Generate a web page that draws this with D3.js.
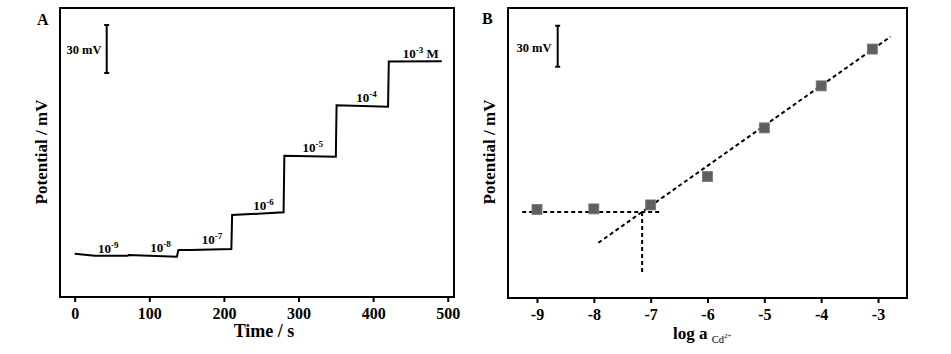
<!DOCTYPE html>
<html>
<head>
<meta charset="utf-8">
<script src="https://cdn.jsdelivr.net/npm/d3@7"></script>
<style>
  body { margin: 0; background: #fff; }
  text { font-family: "Liberation Serif", "Times New Roman", serif; font-weight: bold; fill: #000; }
</style>
</head>
<body>
<svg id="canvas" width="951" height="354"></svg>
<script>
// ---- data, panel A: potential vs time (mV relative to first plateau)
var timeA = [0, 27, 71, 72, 137, 139, 155, 210, 211, 280, 281, 350, 351, 420, 421, 492];
var potA  = [1.4, 0.2, 0.2, 0.6, -0.4, 3.7, 3.8, 4.4, 25.6, 27.3, 62.7, 62.0, 94.2, 93.3, 121.5, 121.8];
var stepExp  = ["-9", "-8", "-7", "-6", "-5", "-4", "-3"];
var stepUnit = ["", "", "", "", "", "", " M"];
var stepT = [45, 115, 184, 253, 319, 391, 464];
var stepV = [1.9, 2.7, 7.5, 28.8, 65.2, 96.4, 123.6];
var ticksA = [0, 100, 200, 300, 400, 500];
var barA = [114.4, 144.4];   // 30 mV scale bar

// ---- data, panel B: calibration
var logA = [-9, -8, -7, -6, -5, -4, -3.1];
var potB = [1.8, 2.2, 5.1, 25.8, 61.4, 92.1, 119.0];
var ticksB = [-9, -8, -7, -6, -5, -4, -3];
var slopeB = 29.3;        // mV / decade
var lodX = -7.15;         // intersection (detection limit)
var fitRange = [-7.92, -2.78];
var flatRange = [-9.26, -6.85];
var lodDrop = -44.3;
var barB = [106.1, 136.1];   // 30 mV scale bar

var svg = d3.select('#canvas');

function scaleBar(g, x, y0, y1) {
  g.append('path').attr('d', 'M' + x + ',' + y0 + 'V' + y1 +
    'M' + (x - 2.5) + ',' + y0 + 'H' + (x + 2.5) +
    'M' + (x - 2.5) + ',' + y1 + 'H' + (x + 2.5))
    .attr('stroke', '#000').attr('stroke-width', 2).attr('fill', 'none');
}

// ************************************************************************************** //
// Panel A

var A = { left: 60, top: 8, right: 454, bottom: 297 };
var xA = d3.scaleLinear().domain([-19.7, 508.4]).range([A.left, A.right]);
var yA = d3.scaleLinear().domain([-25.6, 155]).range([A.bottom, A.top]);

var gA = svg.append('g');
gA.append('rect')
  .attr('x', A.left).attr('y', A.top)
  .attr('width', A.right - A.left).attr('height', A.bottom - A.top)
  .attr('fill', 'none').attr('stroke', '#000').attr('stroke-width', 2);

var axA = gA.append('g').attr('transform', 'translate(0,' + A.bottom + ')')
  .call(d3.axisBottom(xA).tickValues(ticksA).tickSize(5).tickPadding(6));
axA.select('.domain').remove();
axA.selectAll('line').attr('stroke-width', 2);
axA.selectAll('text').style('font-size', '16px');

var lineA = d3.line().x(function(d, i) { return xA(timeA[i]); }).y(function(d, i) { return yA(potA[i]); });
gA.append('path').datum(timeA).attr('d', lineA)
  .attr('fill', 'none').attr('stroke', '#000').attr('stroke-width', 2);

for (var i = 0; i < stepExp.length; i++) {
  var t = gA.append('text').attr('x', xA(stepT[i])).attr('y', yA(stepV[i]))
    .attr('text-anchor', 'middle').style('font-size', '13px');
  t.append('tspan').text('10');
  t.append('tspan').attr('dy', -5).style('font-size', '9px').text(stepExp[i]);
  if (stepUnit[i]) t.append('tspan').attr('dy', 5).text(stepUnit[i]);
}

scaleBar(gA, 106.7, yA(barA[1]), yA(barA[0]));
gA.append('text').attr('x', 101.5).attr('y', 54).attr('text-anchor', 'end')
  .style('font-size', '12.5px').text('30 mV');

gA.append('text').attr('x', 37).attr('y', 25).style('font-size', '16px').text('A');
gA.append('text').attr('transform', 'translate(47,152) rotate(-90)')
  .attr('text-anchor', 'middle').style('font-size', '17px').text('Potential / mV');
gA.append('text').attr('x', 264).attr('y', 337).attr('text-anchor', 'middle')
  .style('font-size', '18px').text('Time / s');

// ************************************************************************************** //
// Panel B

var B = { left: 508, top: 8, right: 907, bottom: 298 };
var xB = d3.scaleLinear().domain([-9.51, -2.49]).range([B.left, B.right]);
var yB = d3.scaleLinear().domain([-62.9, 149]).range([B.bottom, B.top]);

var gB = svg.append('g');
gB.append('rect')
  .attr('x', B.left).attr('y', B.top)
  .attr('width', B.right - B.left).attr('height', B.bottom - B.top)
  .attr('fill', 'none').attr('stroke', '#000').attr('stroke-width', 2);

var axB = gB.append('g').attr('transform', 'translate(0,' + B.bottom + ')')
  .call(d3.axisBottom(xB).tickValues(ticksB).tickSize(5).tickPadding(6));
axB.select('.domain').remove();
axB.selectAll('line').attr('stroke-width', 2);
axB.selectAll('text').style('font-size', '16px').text(function(d) { return '-' + Math.abs(d); });

var dash = '4,3';
// linear fit
gB.append('line')
  .attr('x1', xB(fitRange[0])).attr('y1', yB(slopeB * (fitRange[0] - lodX)))
  .attr('x2', xB(fitRange[1])).attr('y2', yB(slopeB * (fitRange[1] - lodX)))
  .attr('stroke', '#000').attr('stroke-width', 2).attr('stroke-dasharray', dash);
// flat part
gB.append('line')
  .attr('x1', xB(flatRange[0])).attr('y1', yB(0))
  .attr('x2', xB(flatRange[1])).attr('y2', yB(0))
  .attr('stroke', '#000').attr('stroke-width', 2).attr('stroke-dasharray', dash);
// detection limit drop
gB.append('line')
  .attr('x1', xB(lodX)).attr('y1', yB(0))
  .attr('x2', xB(lodX)).attr('y2', yB(lodDrop))
  .attr('stroke', '#000').attr('stroke-width', 2).attr('stroke-dasharray', dash);

gB.selectAll('rect.pt').data(logA).enter().append('rect').attr('class', 'pt')
  .attr('x', function(d) { return xB(d) - 5; })
  .attr('y', function(d, i) { return yB(potB[i]) - 5; })
  .attr('width', 10).attr('height', 10)
  .attr('fill', '#5f5f5f').attr('stroke', '#777').attr('stroke-width', 0.8);

scaleBar(gB, 557.7, yB(barB[1]), yB(barB[0]));
gB.append('text').attr('x', 551.5).attr('y', 51.5).attr('text-anchor', 'end')
  .style('font-size', '12.5px').text('30 mV');

gB.append('text').attr('x', 482).attr('y', 24).style('font-size', '16px').text('B');
gB.append('text').attr('transform', 'translate(495,152) rotate(-90)')
  .attr('text-anchor', 'middle').style('font-size', '17px').text('Potential / mV');

var xl = gB.append('text').attr('x', 673).attr('y', 339).style('font-size', '17px');
xl.append('tspan').text('log a ');
xl.append('tspan').attr('dy', 4).style('font-size', '10.5px').style('font-weight', 'normal').text('Cd');
xl.append('tspan').attr('dy', -5).style('font-size', '7px').style('font-weight', 'normal').text('2+');
</script>
</body>
</html>
